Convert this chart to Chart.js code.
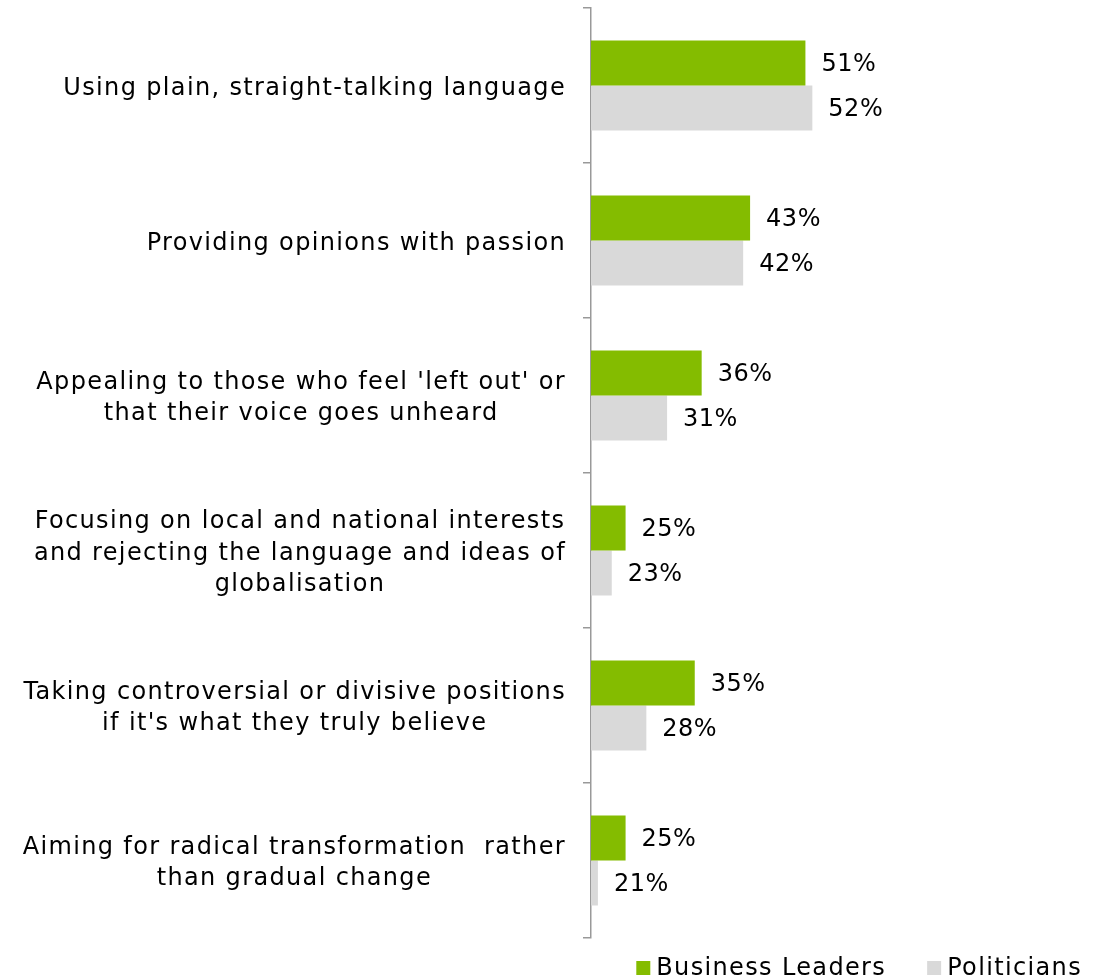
<!DOCTYPE html>
<html>
<head>
<meta charset="utf-8">
<script src="https://cdn.jsdelivr.net/npm/chart.js@4.4.1/dist/chart.umd.min.js"></script>
<style>
  html, body { margin: 0; padding: 0; background: #fff; }
  #wrap { width: 1109px; height: 980px; position: relative; }
</style>
</head>
<body>
<div id="wrap"><canvas id="chart"></canvas></div>
<script>
// categories (each entry = lines of the label)
const categories = [
  ['Using plain, straight-talking language'],
  ['Providing opinions with passion'],
  ["Appealing to those who feel 'left out' or", 'that their voice goes unheard'],
  ['Focusing on local and national interests', 'and rejecting the language and ideas of', 'globalisation'],
  ['Taking controversial or divisive positions', "if it's what they truly believe"],
  ['Aiming for radical transformation  rather', 'than gradual change']
];
const businessLeaders = [51, 43, 36, 25, 35, 25];
const politicians = [52, 42, 31, 23, 28, 21];
const seriesNames = ['Business Leaders', 'Politicians'];
const seriesColors = ['#84BC00', '#D9D9D9'];

const FONT = '24px "DejaVu Sans"';
Chart.defaults.font.family = 'DejaVu Sans';
Chart.defaults.color = '#000';

// value labels at the end of each bar
const barLabels = {
  id: 'barLabels',
  afterDatasetsDraw(chart) {
    const ctx = chart.ctx;
    ctx.save();
    ctx.font = FONT;
    ctx.letterSpacing = '0.5px';
    ctx.fillStyle = '#000';
    ctx.textAlign = 'left';
    ctx.textBaseline = 'middle';
    chart.data.datasets.forEach((ds, di) => {
      chart.getDatasetMeta(di).data.forEach((bar, i) => {
        ctx.fillText(ds.data[i] + '%', bar.x + 16, bar.y + 2);
      });
    });
    ctx.restore();
  }
};

// category labels: block right aligned, lines centred inside the block
const catLabels = {
  id: 'catLabels',
  afterDraw(chart) {
    const ctx = chart.ctx;
    const y = chart.scales.y;
    const right = 566, lh = 31.5;
    ctx.save();
    ctx.font = FONT;
    ctx.letterSpacing = '1.35px';
    ctx.fillStyle = '#000';
    ctx.textAlign = 'center';
    ctx.textBaseline = 'middle';
    categories.forEach((lines, i) => {
      const cy = y.getPixelForValue(i) + 3;
      const w = Math.max(...lines.map(l => ctx.measureText(l).width));
      const cx = right - w / 2;
      const y0 = cy - (lines.length - 1) * lh / 2;
      lines.forEach((l, k) => ctx.fillText(l, cx, y0 + k * lh));
    });
    ctx.restore();
  }
};

// legend under the plot, right side
const bottomLegend = {
  id: 'bottomLegend',
  afterDraw(chart) {
    const ctx = chart.ctx;
    ctx.save();
    ctx.font = FONT;
    ctx.letterSpacing = '1.35px';
    ctx.textAlign = 'left';
    ctx.textBaseline = 'middle';
    const cy = 968, box = 14, gap = 6, itemGap = 41;
    let x = 1082;
    for (let i = seriesNames.length - 1; i >= 0; i--) {
      const tw = ctx.measureText(seriesNames[i]).width;
      x -= tw;
      ctx.fillStyle = '#000';
      ctx.fillText(seriesNames[i], x, cy + 1);
      x -= gap + box;
      ctx.fillStyle = seriesColors[i];
      ctx.fillRect(x, cy - box / 2, box, box);
      x -= itemGap;
    }
    ctx.restore();
  }
};

new Chart(document.getElementById('chart'), {
  type: 'bar',
  data: {
    labels: categories,
    datasets: [
      { label: seriesNames[0], data: businessLeaders, backgroundColor: seriesColors[0], categoryPercentage: 0.58, barPercentage: 1.0 },
      { label: seriesNames[1], data: politicians, backgroundColor: seriesColors[1], categoryPercentage: 0.58, barPercentage: 1.0 }
    ]
  },
  options: {
    indexAxis: 'y',
    responsive: true,
    maintainAspectRatio: false,
    animation: false,
    layout: { padding: { top: 8, right: 11, bottom: 42, left: 0 } },
    scales: {
      x: { display: false, min: 20, max: 93.3 },
      y: {
        afterFit: s => { s.width = 591; },
        ticks: { display: false },
        grid: { offset: true, drawOnChartArea: false, tickLength: 8, color: '#999', lineWidth: 1.5 },
        border: { display: true, color: '#999', width: 1.5 }
      }
    },
    plugins: {
      legend: { display: false },
      tooltip: { enabled: false }
    }
  },
  plugins: [barLabels, catLabels, bottomLegend]
});
</script>
</body>
</html>
